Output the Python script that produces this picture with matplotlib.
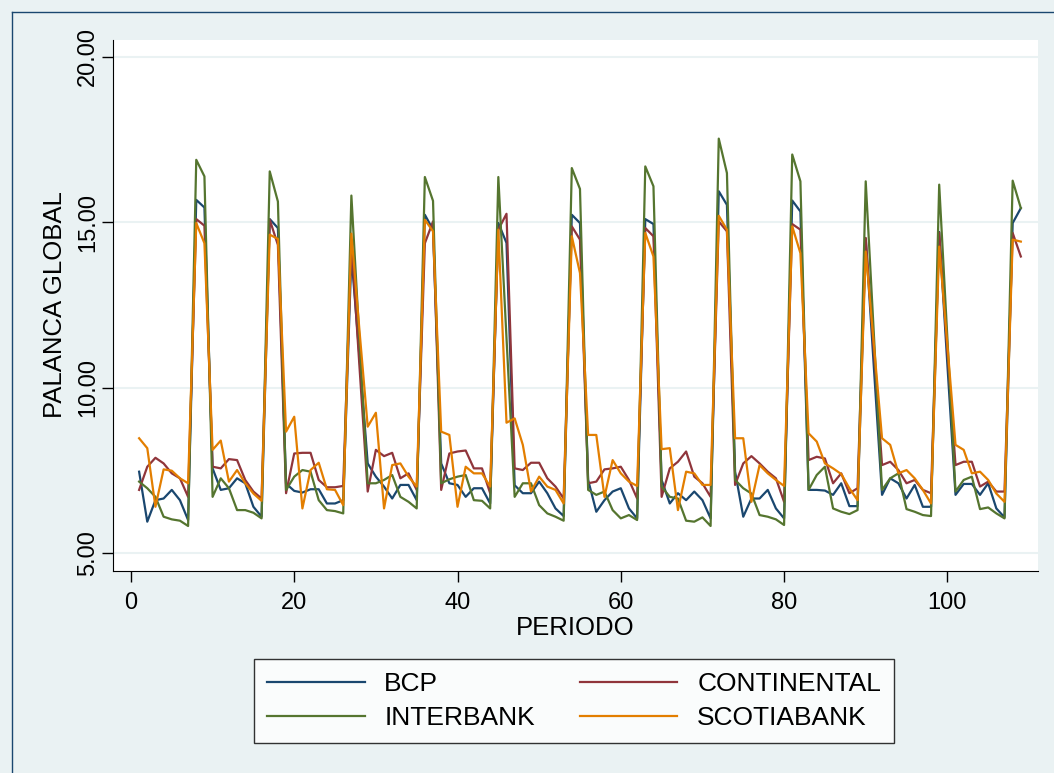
import numpy as np
import matplotlib
matplotlib.use("Agg")
import matplotlib.pyplot as plt
from matplotlib.lines import Line2D

# -------- Data --------
periodo = np.arange(1, 110)

bcp = [7.46, 5.95, 6.60, 6.65, 6.91, 6.60, 6.00, 15.67, 15.44,
       7.56, 6.91, 6.96, 7.26, 7.11, 6.40, 6.10, 15.09, 14.82,
       7.10, 6.88, 6.83, 6.93, 6.93, 6.50, 6.50, 6.60, 14.00,
       10.90, 7.71, 7.31, 7.01, 6.65, 7.06, 7.06, 6.60, 15.22,
       14.77, 7.71, 7.11, 7.06, 6.70, 6.96, 6.96, 6.50, 14.97,
       14.37, 7.05, 6.81, 6.81, 7.16, 6.81, 6.35, 6.12, 15.22,
       14.97, 7.21, 6.25, 6.60, 6.86, 6.96, 6.35, 6.05, 15.09,
       14.94, 7.21, 6.50, 6.81, 6.60, 6.86, 6.60, 6.05, 15.93,
       15.52, 7.46, 6.10, 6.65, 6.65, 6.91, 6.35, 6.05, 15.65,
       15.32, 6.91, 6.91, 6.89, 6.76, 7.11, 6.42, 6.42, 14.50,
       10.60, 6.76, 7.26, 7.11, 6.65, 7.06, 6.40, 6.40, 14.70,
       10.70, 6.76, 7.09, 7.09, 6.76, 7.11, 6.35, 6.08, 14.97,
       15.42]

continental = [6.91, 7.61, 7.88, 7.71, 7.41, 7.26, 6.70, 15.09, 14.89,
               7.61, 7.56, 7.84, 7.81, 7.21, 6.86, 6.65, 15.07, 14.31,
               6.81, 8.01, 8.03, 8.03, 7.21, 6.99, 6.99, 7.03, 14.40,
               10.60, 6.86, 8.12, 7.93, 8.03, 7.26, 7.41, 6.91, 14.36,
               15.02, 6.91, 8.01, 8.07, 8.10, 7.56, 7.56, 6.81, 14.77,
               15.25, 7.56, 7.51, 7.73, 7.73, 7.26, 7.01, 6.65, 14.87,
               14.47, 7.11, 7.16, 7.53, 7.56, 7.61, 7.21, 6.65, 14.82,
               14.57, 6.70, 7.56, 7.76, 8.07, 7.31, 7.11, 6.70, 15.02,
               14.72, 7.06, 7.71, 7.93, 7.71, 7.46, 7.26, 6.55, 14.94,
               14.77, 7.81, 7.91, 7.86, 7.11, 7.41, 6.81, 6.96, 14.52,
               11.10, 7.66, 7.76, 7.51, 7.11, 7.21, 6.91, 6.81, 14.68,
               11.10, 7.66, 7.76, 7.76, 7.01, 7.16, 6.86, 6.86, 14.67,
               13.96]

interbank = [7.16, 6.96, 6.70, 6.10, 6.02, 5.98, 5.82, 16.88, 16.38,
             6.70, 7.26, 6.96, 6.30, 6.30, 6.22, 6.05, 16.53, 15.62,
             6.91, 7.31, 7.51, 7.46, 6.60, 6.30, 6.27, 6.20, 15.80,
             11.40, 7.11, 7.11, 7.21, 7.36, 6.70, 6.55, 6.35, 16.36,
             15.64, 7.11, 7.23, 7.31, 7.36, 6.60, 6.58, 6.35, 16.36,
             11.50, 6.70, 7.11, 7.11, 6.45, 6.20, 6.10, 5.98, 16.63,
             16.00, 6.91, 6.76, 6.86, 6.30, 6.05, 6.15, 6.00, 16.68,
             16.08, 7.01, 6.70, 6.65, 5.98, 5.95, 6.08, 5.82, 17.52,
             16.48, 7.21, 6.96, 6.80, 6.15, 6.10, 6.02, 5.85, 17.04,
             16.23, 6.91, 7.36, 7.61, 6.35, 6.25, 6.18, 6.30, 16.23,
             11.60, 6.91, 7.26, 7.41, 6.33, 6.25, 6.15, 6.12, 16.13,
             11.50, 6.86, 7.21, 7.31, 6.33, 6.38, 6.20, 6.05, 16.25,
             15.42]

scotiabank = [8.47, 8.17, 6.40, 7.53, 7.49, 7.26, 7.11, 14.97, 14.36,
              8.12, 8.40, 7.16, 7.51, 7.11, 6.80, 6.58, 14.62, 14.49,
              8.67, 9.12, 6.35, 7.51, 7.73, 6.93, 6.91, 6.45, 14.65,
              11.70, 8.82, 9.24, 6.35, 7.66, 7.71, 7.31, 7.01, 15.07,
              14.72, 8.67, 8.57, 6.40, 7.61, 7.41, 7.41, 7.01, 14.77,
              8.94, 9.07, 8.27, 6.86, 7.31, 7.01, 6.91, 6.50, 14.57,
              13.46, 8.57, 8.57, 6.70, 7.81, 7.41, 7.16, 7.03, 14.67,
              13.96, 8.14, 8.17, 6.30, 7.46, 7.41, 7.06, 7.06, 15.19,
              14.77, 8.47, 8.47, 6.55, 7.66, 7.41, 7.21, 7.03, 14.87,
              14.06, 8.62, 8.37, 7.71, 7.56, 7.39, 6.96, 6.60, 14.11,
              11.30, 8.47, 8.27, 7.41, 7.51, 7.26, 6.91, 6.50, 14.26,
              11.30, 8.27, 8.12, 7.41, 7.46, 7.21, 6.80, 6.55, 14.47,
              14.41]

series = {
    "BCP": bcp,
    "CONTINENTAL": continental,
    "INTERBANK": interbank,
    "SCOTIABANK": scotiabank,
}
colors = ["#1a476f", "#90353b", "#55752f", "#e37e00"]

x_ticks = [0, 20, 40, 60, 80, 100]
y_ticks = [5, 10, 15, 20]

# -------- Figure --------
plt.rcParams["font.family"] = ["Liberation Sans", "DejaVu Sans"]
bg = "#eaf2f3"

fig = plt.figure(figsize=(10.54, 7.73), dpi=100, facecolor=bg)
ax = fig.add_axes([0.1072, 0.2613, 0.8776, 0.687])
ax.set_facecolor("white")

for (name, vals), c in zip(series.items(), colors):
    ax.plot(periodo, vals, color=c, linewidth=1.6, label=name)

ax.set_xlim(-2.2, 111.1)
ax.set_ylim(4.46, 20.5)

ax.set_yticks(y_ticks)
ax.set_yticklabels([f"{v:.2f}" for v in y_ticks], rotation=90, va="center")
ax.set_xticks(x_ticks)
ax.grid(axis="y", color=bg, linewidth=1.5)
ax.set_axisbelow(True)

for s in ["top", "right"]:
    ax.spines[s].set_visible(False)
ax.spines["left"].set_color("black")
ax.spines["bottom"].set_color("black")
ax.tick_params(axis="both", labelsize=17, length=8, width=1, color="black")
ax.tick_params(axis="x", pad=7)
ax.tick_params(axis="y", pad=2)

fig.text(575 / 1054, 1 - 628 / 773, "PERIODO", ha="center", va="center", fontsize=18.5)
fig.text(55 / 1054, 1 - 305 / 773, "PALANCA GLOBAL", ha="center", va="center",
         rotation=90, fontsize=18.5)

# legend is filled row by row in the reference, matplotlib fills by column
names = list(series.keys())
order = [0, 2, 1, 3]
handles = [Line2D([0], [0], color=colors[i], linewidth=1.6) for i in order]
labels = [names[i] for i in order]
leg = fig.legend(handles, labels, ncol=2, loc="center",
                 bbox_to_anchor=(574 / 1054, 1 - 701 / 773),
                 fontsize=19, frameon=True, fancybox=False,
                 handlelength=3.7, handletextpad=0.75, columnspacing=1.7,
                 labelspacing=0.38, borderpad=0.5)
leg.get_frame().set_edgecolor("black")
leg.get_frame().set_linewidth(1.0)
leg.get_frame().set_facecolor("white")

# outer frame lines
fig.add_artist(Line2D([12 / 1054, 12 / 1054], [0, 1 - 12 / 773],
                      transform=fig.transFigure, color="#1a476f", linewidth=1))
fig.add_artist(Line2D([12 / 1054, 1], [1 - 12 / 773, 1 - 12 / 773],
                      transform=fig.transFigure, color="#1a476f", linewidth=1))

fig.savefig("out.png", dpi=100, facecolor=bg)
